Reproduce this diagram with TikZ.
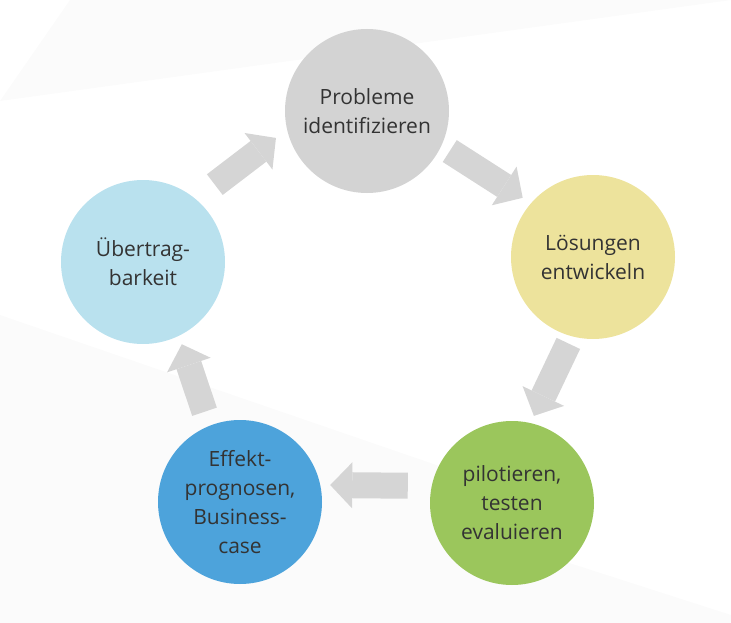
\documentclass[tikz,border=0pt]{standalone}
\usepackage{fontspec}
\setmainfont{Open Sans}
\usetikzlibrary{positioning, arrows.meta, calc}

\definecolor{circgray}{HTML}{D3D3D3}
\definecolor{circyellow}{HTML}{EDE39C}
\definecolor{circgreen}{HTML}{9BC65C}
\definecolor{circblue}{HTML}{4DA3DB}
\definecolor{circlight}{HTML}{B9E1EE}
\definecolor{arrowgray}{HTML}{D5D5D5}
\definecolor{textgray}{HTML}{333333}
\definecolor{bgfaint}{HTML}{FBFBFB}

\begin{document}
\begin{tikzpicture}
    [
        x=1pt, y=-1pt,
        phase/.style={circle, minimum size=164pt, inner sep=0pt, outer sep=0pt,
            align=center, text=textgray,
            font=\fontsize{21}{29}\selectfont},
        cyclearrow/.style={line width=26pt, arrowgray,
            -{Triangle[length=22pt, width=46pt, line width=0pt]}}
    ]
        \useasboundingbox (0,0) rectangle (731,623);
        % =========================================================================
        % BACKGROUND
        % =========================================================================
        \fill [bgfaint] (70,0) -- (731,0) -- (0,101) -- cycle;
        \fill [bgfaint] (0,315) -- (480,480) -- (560,560) -- (731,615)
            -- (731,623) -- (0,623) -- cycle;

        % =========================================================================
        % NODES
        % =========================================================================
        \node [phase, fill=circgray]   (probleme) at (367,111) {Probleme\\identifizieren};
        \node [phase, fill=circyellow] (loesung)  at (593,257) {Lösungen\\entwickeln};
        \node [phase, fill=circgreen]  (pilot)    at (512,503) {pilotieren,\\testen\\evaluieren};
        \node [phase, fill=circblue]   (effekt)   at (240,502) {Effekt-\\prognosen,\\Business-\\case};
        \node [phase, fill=circlight]  (transfer) at (143,262) {Übertrag-\\barkeit};

        % =========================================================================
        % PATHS
        % =========================================================================
        \draw [cyclearrow, shorten <=10pt, shorten >=10pt] (probleme.-25) -- (loesung.139);
        \draw [cyclearrow, shorten <=8pt, shorten >=8pt] (loesung.-105) -- (pilot.77);
        \draw [cyclearrow, shorten <=24pt, shorten >=10pt] (pilot.168) -- (effekt.12);
        \draw [cyclearrow, shorten <=15pt, shorten >=9pt] (effekt.112) -- (transfer.-64);
        \draw [cyclearrow, shorten <=24pt, shorten >=14pt] (transfer.50) -- (probleme.-167);
\end{tikzpicture}
\end{document}
